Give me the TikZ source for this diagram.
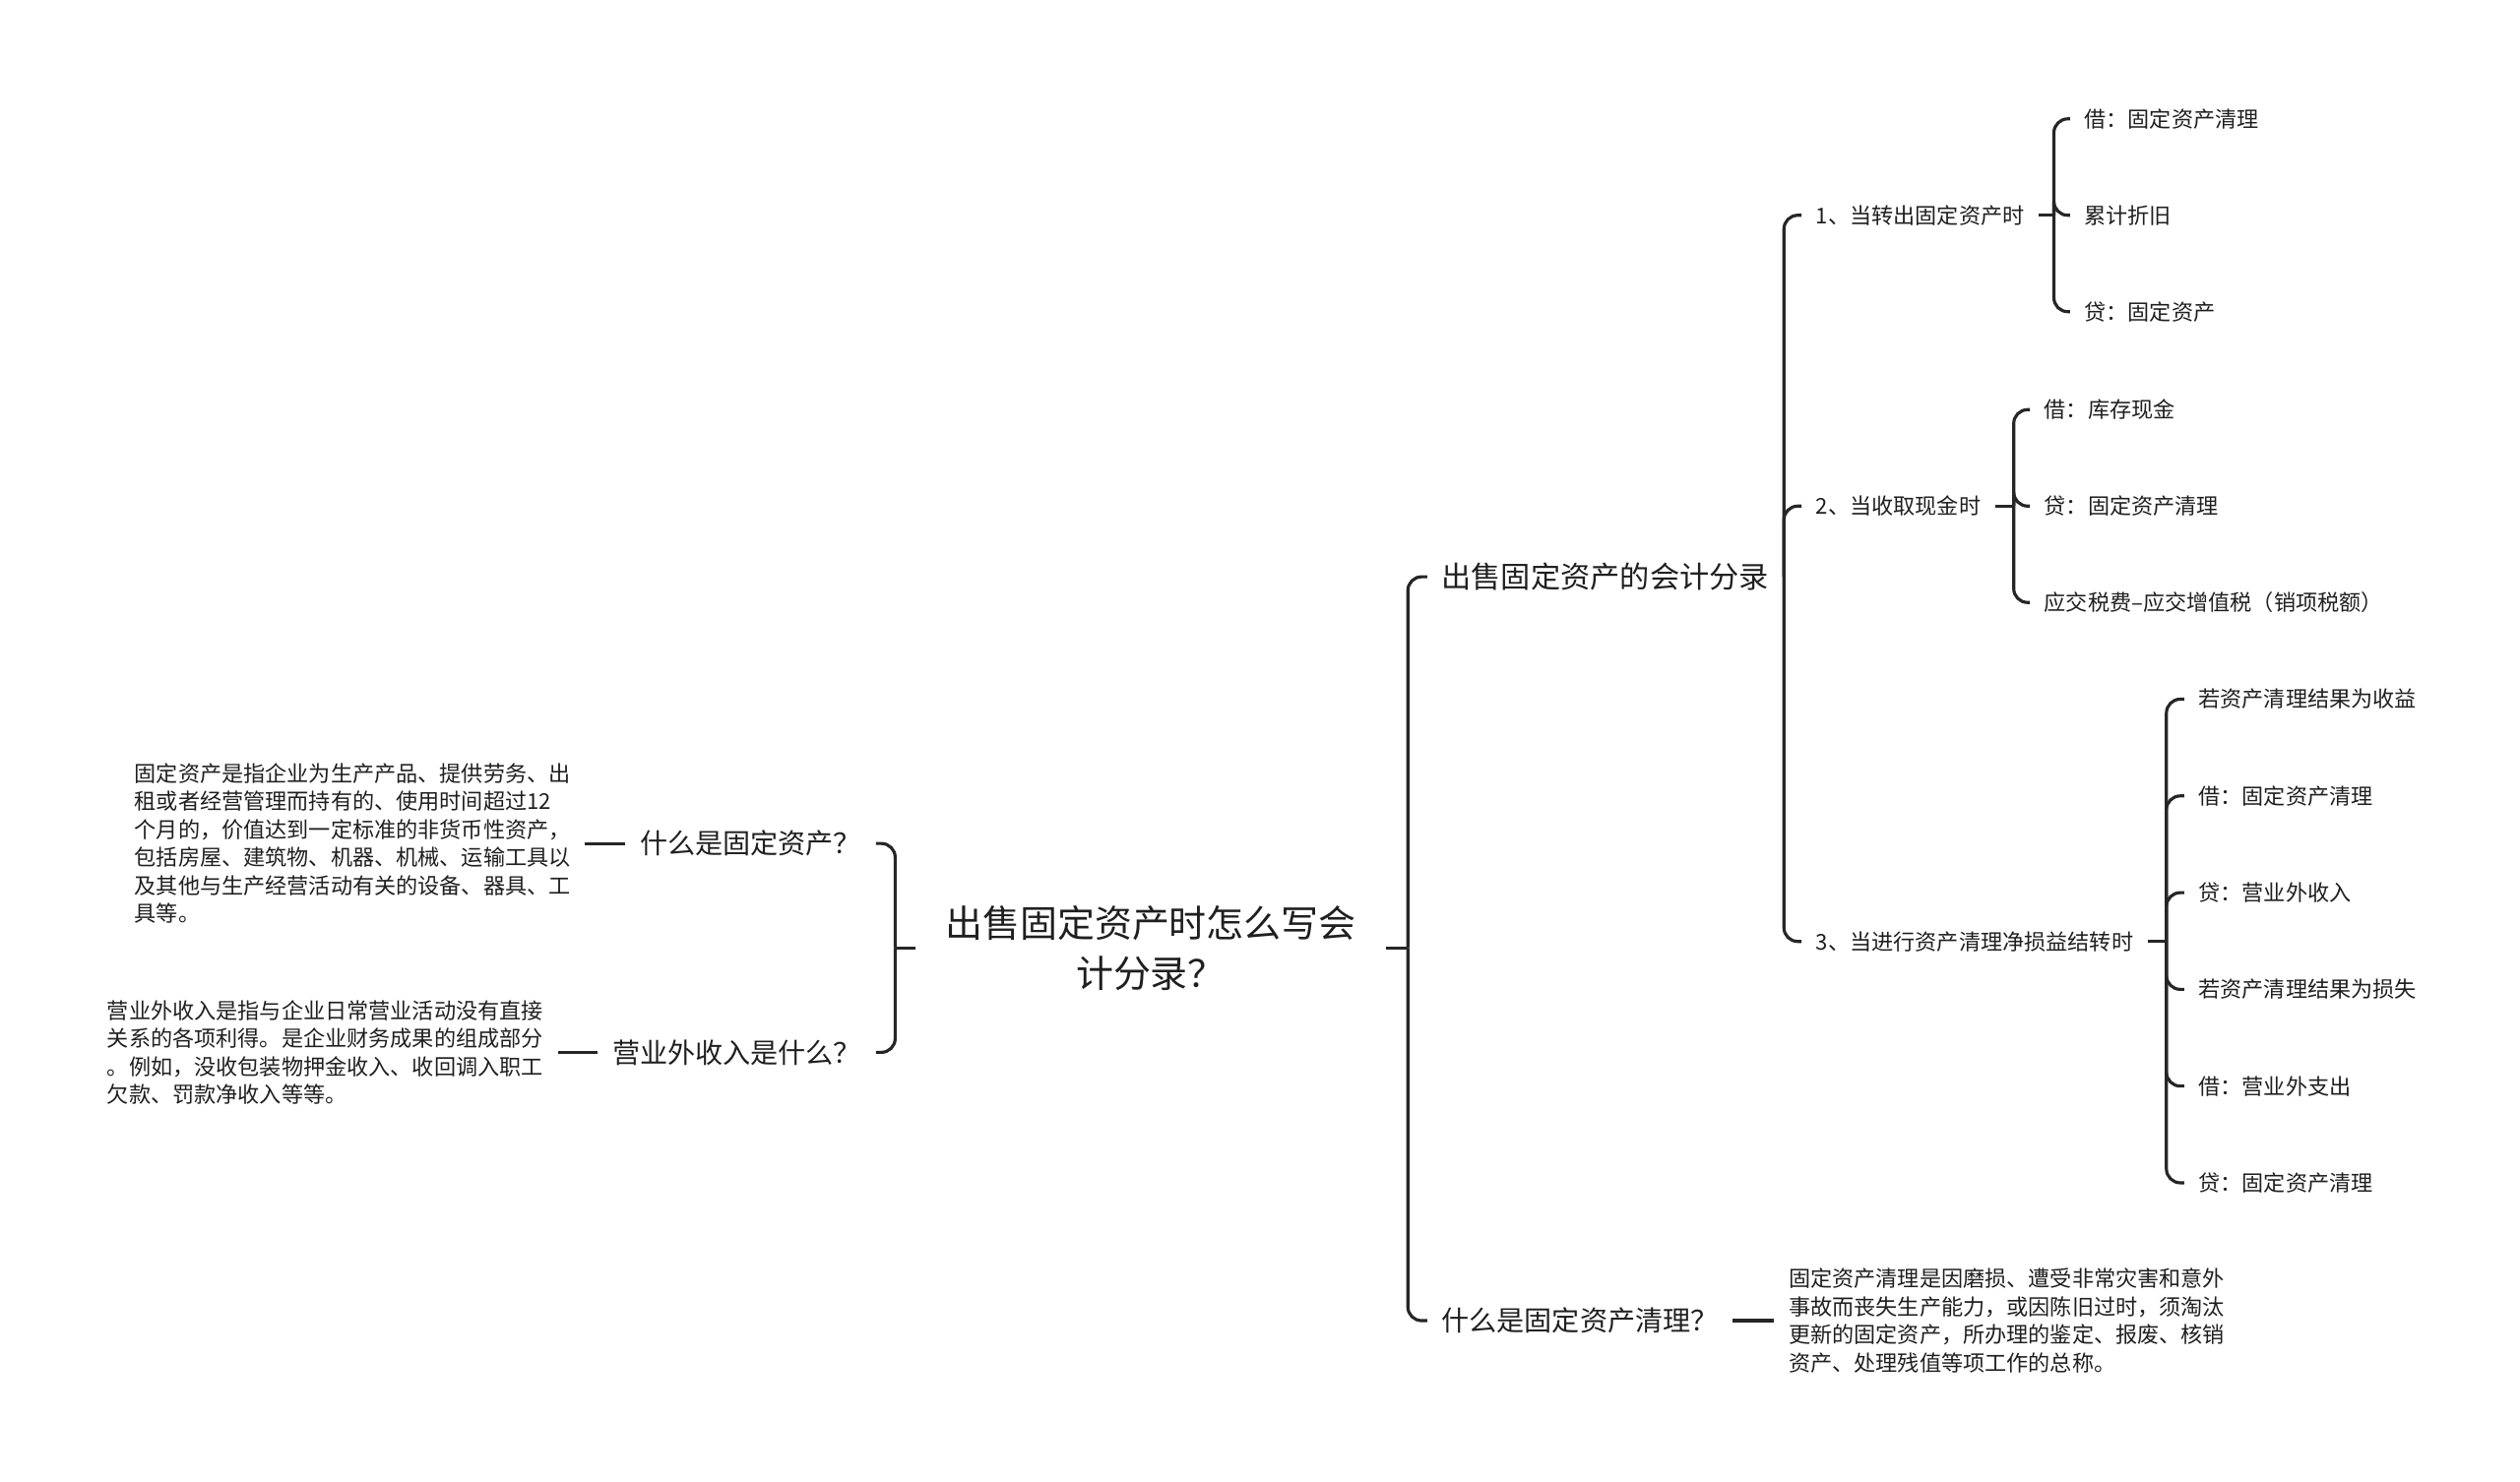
\documentclass[tikz,border=0pt]{standalone}
\usepackage{fontspec}
\setmainfont{Noto Sans CJK SC}
\usepackage{tikz}

\tikzset{
  rootnode/.style={font=\fontsize{10.8}{14.4}\selectfont, align=center, inner xsep=3mm, inner ysep=0pt, text=black!88},
  topic/.style={font=\fontsize{8}{9.6}\selectfont, inner xsep=1.4mm, inner ysep=0pt, text=black!88},
  subnode/.style={font=\fontsize{6.3}{8}\selectfont, inner xsep=1.4mm, inner ysep=0pt, text=black!88},
  note/.style={font=\fontsize{6.3}{8.1}\selectfont, align=left, inner xsep=1.4mm, inner ysep=0pt, text=black!88},
  branch/.style={line width=0.9pt, draw=black!85, rounded corners=1.4mm},
}

\begin{document}
\begin{tikzpicture}[x=0.16327mm, y=-0.16327mm]
\useasboundingbox (0,0) rectangle (1568,922);

% root
\node[rootnode] (root) at (716,590) {出售固定资产时怎么写会\\计分录？};
\coordinate (jR) at (876,590);
\coordinate (jL) at (557,590);
\draw[branch] (root.east) -- (jR);
\draw[branch] (root.west) -- (jL);

% left side
\node[topic, anchor=east] (what) at (545,525) {什么是固定资产？};
\node[topic, anchor=east] (outinc) at (545,655) {营业外收入是什么？};
\draw[branch] (jL) |- (what.east);
\draw[branch] (jL) |- (outinc.east);
\node[note, anchor=east] (whatnote) at (364,525) {固定资产是指企业为生产产品、提供劳务、出\\租或者经营管理而持有的、使用时间超过12\\个月的，价值达到一定标准的非货币性资产，\\包括房屋、建筑物、机器、机械、运输工具以\\及其他与生产经营活动有关的设备、器具、工\\具等。};
\node[note, anchor=east] (outnote) at (347,655) {营业外收入是指与企业日常营业活动没有直接\\关系的各项利得。是企业财务成果的组成部分\\。例如，没收包装物押金收入、收回调入职工\\欠款、罚款净收入等等。};
\draw[branch] (what.west) -- (whatnote.east);
\draw[branch] (outinc.west) -- (outnote.east);

% right side
\node[topic, anchor=west, font=\fontsize{8.6}{10.2}\selectfont] (acct) at (888,359) {出售固定资产的会计分录};
\node[topic, anchor=west] (clear) at (888,822) {什么是固定资产清理？};
\draw[branch] (jR) |- (acct.west);
\draw[branch] (jR) |- (clear.west);
\node[note, anchor=west] (clearnote) at (1104,822) {固定资产清理是因磨损、遭受非常灾害和意外\\事故而丧失生产能力，或因陈旧过时，须淘汰\\更新的固定资产，所办理的鉴定、报废、核销\\资产、处理残值等项工作的总称。};
\draw[branch] (clear.east) -- (clearnote.west);

\coordinate (jA) at (1110,359);
\draw[branch] (acct.east) -- (jA);
\node[subnode, anchor=west] (s1) at (1121,134) {1、当转出固定资产时};
\node[subnode, anchor=west] (s2) at (1121,315) {2、当收取现金时};
\node[subnode, anchor=west] (s3) at (1121,586) {3、当进行资产清理净损益结转时};
\foreach \s in {s1,s2,s3} \draw[branch] (jA) |- (\s.west);

\coordinate (j1) at (1278,134);
\coordinate (j2) at (1253,315);
\coordinate (j3) at (1348,586);
\draw[branch] (s1.east) -- (j1);
\draw[branch] (s2.east) -- (j2);
\draw[branch] (s3.east) -- (j3);

\foreach \t [count=\i] in {借：固定资产清理, 累计折旧, 贷：固定资产} {
  \node[subnode, anchor=west] (s1\i) at (1288,14+60*\i) {\t};
  \draw[branch] (j1) |- (s1\i.west);
}
\foreach \t [count=\i] in {借：库存现金, 贷：固定资产清理, 应交税费–应交增值税（销项税额）} {
  \node[subnode, anchor=west] (s2\i) at (1263,195+60*\i) {\t};
  \draw[branch] (j2) |- (s2\i.west);
}
\foreach \t [count=\i] in {若资产清理结果为收益, 借：固定资产清理, 贷：营业外收入, 若资产清理结果为损失, 借：营业外支出, 贷：固定资产清理} {
  \node[subnode, anchor=west] (s3\i) at (1359,375+60.2*\i) {\t};
  \draw[branch] (j3) |- (s3\i.west);
}
\end{tikzpicture}
\end{document}
